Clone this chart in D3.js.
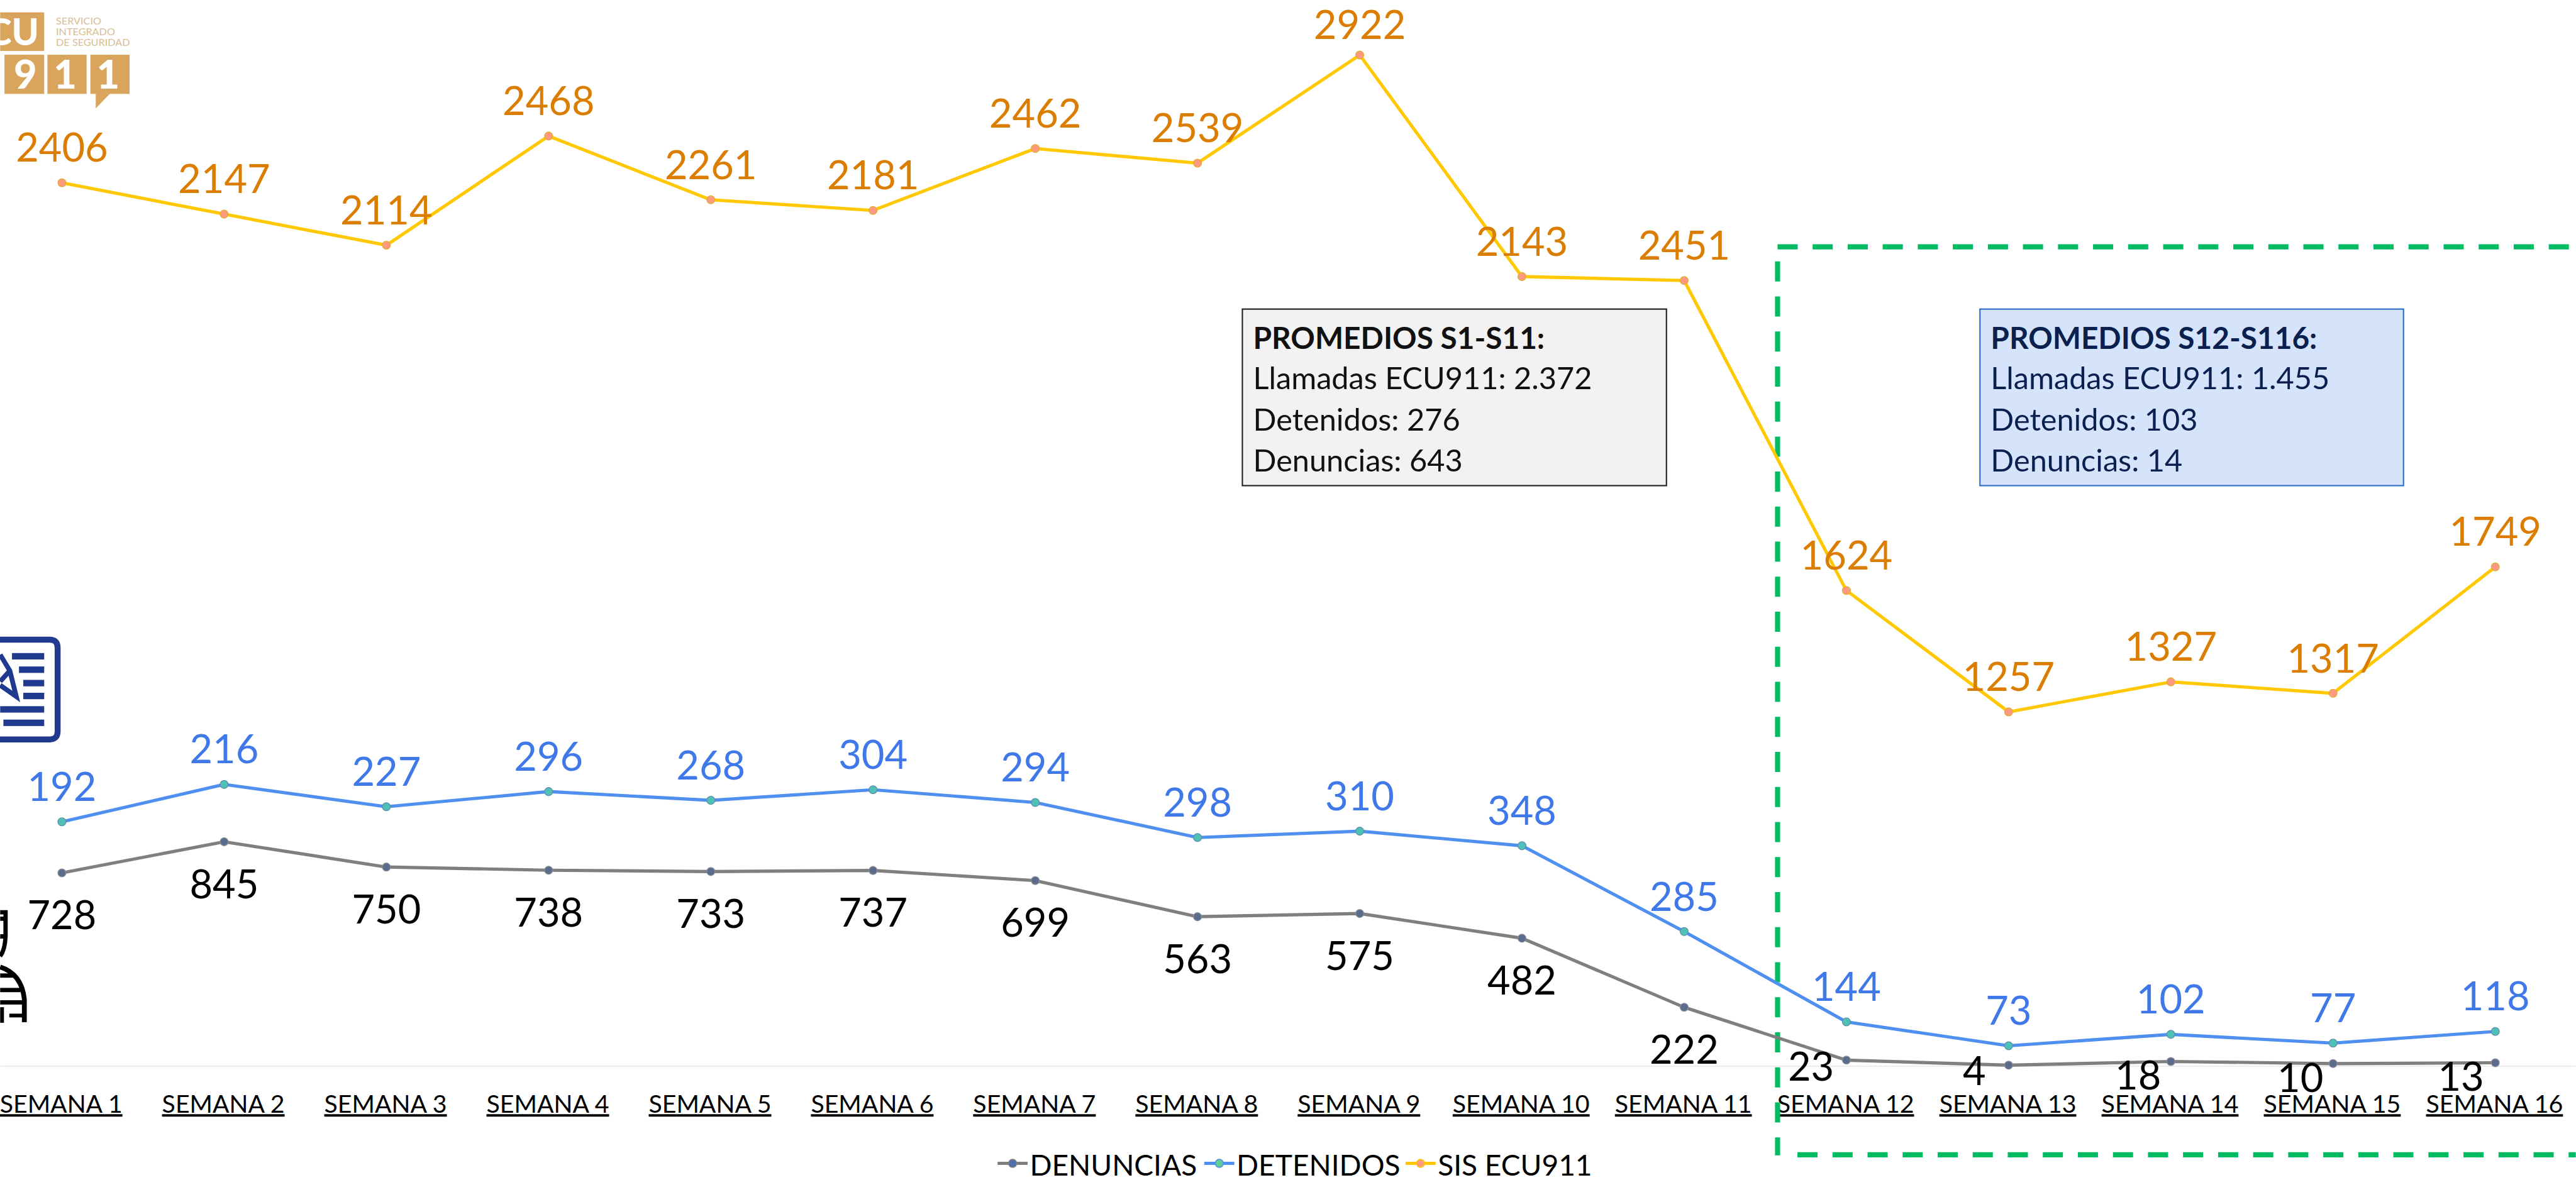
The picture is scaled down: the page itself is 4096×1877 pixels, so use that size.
<!DOCTYPE html>
<html><head><meta charset="utf-8">
<style>html,body{margin:0;padding:0;background:#fff;overflow:hidden}svg{display:block}text{font-family:Lato,"Noto Sans",sans-serif}</style>
<script src="https://cdnjs.cloudflare.com/ajax/libs/d3/7.8.5/d3.min.js"></script>
</head><body><script>
const weeks = ["SEMANA 1","SEMANA 2","SEMANA 3","SEMANA 4","SEMANA 5","SEMANA 6","SEMANA 7","SEMANA 8","SEMANA 9","SEMANA 10","SEMANA 11","SEMANA 12","SEMANA 13","SEMANA 14","SEMANA 15","SEMANA 16"];
const denuncias = [728,845,750,738,733,737,699,563,575,482,222,23,4,18,10,13];
const detenidos = [192,216,227,296,268,304,294,298,310,348,285,144,73,102,77,118];
const sisEcu911 = [2406,2147,2114,2468,2261,2181,2462,2539,2922,2143,2451,1624,1257,1327,1317,1749];
const seriesNames = ["DENUNCIAS","DETENIDOS","SIS ECU911"];
const yDomain = [0,4000];
const box1Lines = ["PROMEDIOS S1-S11:","Llamadas ECU911: 2.372","Detenidos: 276","Denuncias: 643"];
const box2Lines = ["PROMEDIOS S12-S116:","Llamadas ECU911: 1.455","Detenidos: 103","Denuncias: 14"];

// label nudges, in reference pixels, kept apart from the data
const denDx = [0,0,0,0,0,0,0,0,0,0,0,-66,-64,-61,-61,-64];
const denBase = [105,105,105,105,105,105,105,105,105,105,105,38,37,52,53,52];
const sisBase = weeks.map((_,i)=> i===8 ? -30 : -39);

const styles = [
 {line:"#7f7f7f", fill:"#5b6b8c", stroke:"#8a8f98", text:"#000000", leg:"#4f6fb0"},
 {line:"#4f8ff0", fill:"#4fc0b8", stroke:"#5f8fa8", text:"#3f78e8", leg:"#5fd08f"},
 {line:"#ffc800", fill:"#ff9a80", stroke:"#e0b030", text:"#db7d00", leg:"#ff9a80"}
];

const svg = d3.select("body").append("svg").attr("width",4096).attr("height",1877).attr("viewBox","0 0 4798 2199");
const x = d3.scalePoint().domain(weeks).range([115,4648]);
const y = d3.scaleLinear().domain(yDomain).range([1987,7]);

const rows = weeks.map((w,i)=>({w, DENUNCIAS:denuncias[i], DETENIDOS:detenidos[i], "SIS ECU911":sisEcu911[i]}));
const stacked = d3.stack().keys(seriesNames)(rows);

// baseline
svg.append("line").attr("x1",0).attr("x2",4798).attr("y1",y(0)).attr("y2",y(0)).attr("stroke","#eeeeee").attr("stroke-width",3);

// axis labels
const ax = svg.append("g").attr("transform",`translate(0,${y(0)})`).call(d3.axisBottom(x).tickSize(0).tickPadding(0));
ax.select(".domain").remove();
ax.selectAll("text").attr("y",87).attr("dy",0).attr("x",-2).attr("font-size",46).attr("fill","#000").attr("text-decoration","underline").style("font-family","Lato");

// green dashed frame
const green = g => g.attr("stroke","#00bb62").attr("stroke-width",9.5).attr("stroke-dasharray","37.5 27.8").attr("fill","none");
svg.append("path").attr("d","M3311,460H4798").call(green);
svg.append("path").attr("d","M3311,487V2153").call(green);
svg.append("path").attr("d","M3348,2152H4798").call(green);

// lines and markers
const line = d3.line().x(d=>x(d.data.w)).y(d=>y(d[1]));
stacked.forEach((s,k)=>{
  const st = styles[k];
  svg.append("path").datum(s).attr("d",line).attr("fill","none").attr("stroke",st.line).attr("stroke-width",6).attr("stroke-linejoin","round");
  svg.append("g").selectAll("circle").data(s).join("circle")
    .attr("cx",d=>x(d.data.w)).attr("cy",d=>y(d[1])).attr("r",7.5)
    .attr("fill",st.fill).attr("stroke",st.stroke).attr("stroke-width",1.5);
});

// value labels
const vals = [denuncias,detenidos,sisEcu911];
stacked.forEach((s,k)=>{
  svg.append("g").selectAll("text").data(s).join("text")
    .attr("x",(d,i)=>x(d.data.w)+(k===0?denDx[i]:0))
    .attr("y",(d,i)=>y(d[1])+(k===0?denBase[i]:k===2?sisBase[i]:-39))
    .attr("text-anchor","middle").attr("font-size",74).attr("fill",styles[k].text)
    .text((d,i)=>vals[k][i]);
});

// average boxes
function box(lines,x0,x1,fill,stroke,color){
  svg.append("rect").attr("x",x0).attr("y",576).attr("width",x1-x0).attr("height",329).attr("fill",fill).attr("stroke",stroke).attr("stroke-width",2.5);
  const bases=[650,725,802,879];
  svg.append("g").selectAll("text").data(lines).join("text")
    .attr("x",x0+20).attr("y",(d,i)=>bases[i]).attr("font-size",(d,i)=>i===0?56:57).attr("fill",color)
    .attr("font-weight",(d,i)=>i===0?700:400).text(d=>d);
}
box(box1Lines,2314,3104,"#f2f2f2","#222222","#111111");
box(box2Lines,3688,4477,"#d6e4fb","#2f6fc8","#0a2150");

// legend
const legX=[1858,2243,2618];
seriesNames.forEach((n,k)=>{
  const st=styles[k], g=svg.append("g");
  g.append("line").attr("x1",legX[k]).attr("x2",legX[k]+56).attr("y1",2168).attr("y2",2168).attr("stroke",st.line).attr("stroke-width",6);
  g.append("circle").attr("cx",legX[k]+28).attr("cy",2168).attr("r",7.5).attr("fill",st.leg).attr("stroke",st.line).attr("stroke-width",2);
  g.append("text").attr("x",legX[k]+60).attr("y",2191).attr("font-size",54).attr("fill","#000").text(n);
});

// ECU 911 logo
const lg = svg.append("g");
const gold="#d9a55c";
[[0,23,82,72],[8,102,74,73],[88,102,73,73],[168,102,73,73]].forEach(r=>lg.append("rect").attr("x",r[0]).attr("y",r[1]).attr("width",r[2]).attr("height",r[3]).attr("fill",gold));
lg.append("path").attr("d","M178,174V202L205,174Z").attr("fill",gold);
[["CU",72,84,68,"end"],["9",47,165,74,"middle"],["1",121,165,74,"middle"],["1",201,165,74,"middle"]].forEach(t=>lg.append("text").attr("x",t[1]).attr("y",t[2]).attr("text-anchor",t[4]).attr("font-size",t[3]).attr("font-weight",900).attr("fill","#fff").text(t[0]));
[["SERVICIO",46],["INTEGRADO",66],["DE SEGURIDAD",86]].forEach(t=>lg.append("text").attr("x",104).attr("y",t[1]).attr("font-size",19).attr("fill","#d8bd95").text(t[0]));

// document icon
const doc=svg.append("g"), navy="#1f3a8f";
doc.append("path").attr("d","M-20,1192H92Q107,1192 107,1207V1363Q107,1378 92,1378H-20").attr("fill","none").attr("stroke",navy).attr("stroke-width",11);
[[22,1223],[35,1248],[43,1273],[43,1297],[0,1322],[6,1347]].forEach(l=>doc.append("rect").attr("x",l[0]).attr("y",l[1]-6).attr("width",82-l[0]).attr("height",12).attr("fill",navy));
doc.append("path").attr("d","M0,1220L18,1250L30,1298L0,1277M0,1270L18,1250").attr("fill","none").attr("stroke",navy).attr("stroke-width",9);

// person icon
const per=svg.append("g");
per.append("path").attr("d","M0,1700H10V1745Q9,1770 0,1782M0,1712H10M0,1745H10").attr("fill","none").attr("stroke","#000").attr("stroke-width",8);
per.append("path").attr("d","M0,1802Q40,1815 45,1862V1905").attr("fill","none").attr("stroke","#000").attr("stroke-width",9);
[[1818,28],[1845,38],[1868,42]].forEach(s=>per.append("rect").attr("x",0).attr("y",s[0]-4).attr("width",s[1]).attr("height",8).attr("fill","#000"));
per.append("rect").attr("x",0).attr("y",1877).attr("width",7).attr("height",29).attr("fill","#000");
per.append("rect").attr("x",17).attr("y",1889).attr("width",28).attr("height",7).attr("fill","#000");
</script></body></html>
